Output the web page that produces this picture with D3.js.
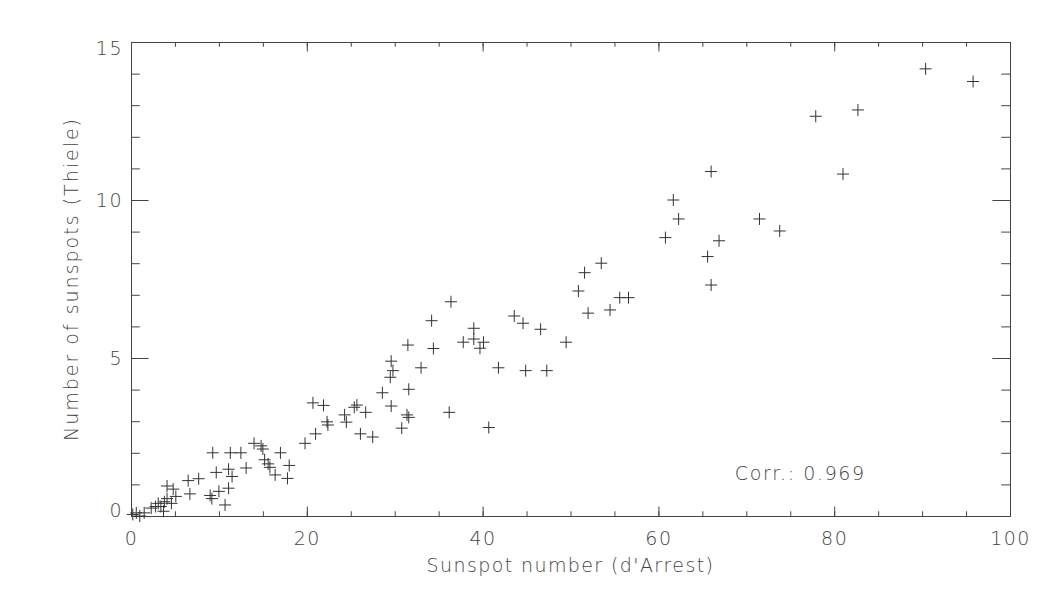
<!DOCTYPE html>
<html>
<head>
<meta charset="utf-8">
<script src="https://d3js.org/d3.v7.min.js"></script>
<style>
  body { margin: 0; background: #fff; }
  text { font-family: "DejaVu Sans", sans-serif; font-weight: 200; fill: #444; }
</style>
</head>
<body>
<svg id="chart"></svg>
<script>

// sunspot numbers, d'Arrest (x) vs Thiele (y)
var dArrest = [0.2, 0.6, 1.0, 1.5, 2.3, 2.8, 3.1, 3.4, 3.7, 3.8, 4.1, 4.6, 5.1, 4.1, 4.8,
  6.5, 7.7, 6.7, 9.0, 9.2, 9.7, 10.0, 10.7, 11.1, 11.1, 11.5, 9.3, 11.3, 12.5, 13.1,
  14.0, 14.8, 15.0, 15.2, 15.6, 15.8, 16.4, 17.0, 17.8, 18.0, 19.8, 20.7, 21.0, 21.9,
  22.3, 22.4, 24.3, 24.5, 25.4, 25.7, 26.1, 26.7, 27.5, 28.6, 29.5, 29.6, 29.8, 29.6,
  30.8, 31.4, 31.6, 31.6, 31.5, 33.0, 34.2, 34.4, 36.2, 36.4, 37.8, 39.0, 39.0, 39.7,
  40.1, 40.7, 41.8, 43.6, 44.6, 44.9, 46.6, 47.3, 49.5, 50.9, 51.6, 52.0, 53.5, 54.5,
  55.6, 56.6, 60.8, 61.7, 62.3, 65.6, 66.0, 66.0, 66.9, 71.5, 73.8, 77.9, 81.0, 82.7,
  90.4, 95.8];
var thiele = [0.05, 0.1, 0.0, 0.1, 0.25, 0.3, 0.4, 0.3, 0.15, 0.45, 0.55, 0.4, 0.62, 0.95, 0.85,
  1.12, 1.18, 0.7, 0.65, 0.55, 1.38, 0.78, 0.35, 0.88, 1.48, 1.25, 2.0, 2.0, 2.0, 1.52,
  2.3, 2.22, 2.12, 1.78, 1.65, 1.54, 1.3, 2.0, 1.19, 1.6, 2.3, 3.58, 2.6, 3.5,
  2.98, 2.88, 3.2, 2.97, 3.44, 3.51, 2.6, 3.28, 2.5, 3.9, 4.39, 4.9, 4.6, 3.48,
  2.78, 3.2, 3.12, 4.01, 5.41, 4.69, 6.18, 5.3, 3.28, 6.78, 5.5, 5.94, 5.6, 5.31,
  5.5, 2.8, 4.69, 6.33, 6.1, 4.6, 5.91, 4.6, 5.5, 7.12, 7.7, 6.42, 8.0, 6.52,
  6.91, 6.91, 8.81, 10.0, 9.4, 8.21, 7.31, 10.9, 8.71, 9.4, 9.02, 12.65, 10.82, 12.85,
  14.15, 13.75];

var xMajor = [0, 20, 40, 60, 80, 100];
var yMajor = [0, 5, 10, 15];
var corrText = "Corr.: 0.969";

var W = 1050, H = 600;
var L = 131, R = 1010, T = 42, B = 516;

var svg = d3.select("#chart").attr("width", W).attr("height", H);

var x = d3.scaleLinear().domain([0, 100]).range([L, R]);
var y = d3.scaleLinear().domain([0, 15]).range([B, T]);

var xMinor = d3.range(0, 101, 5);
var yMinor = d3.range(0, 16, 1);

var xt = 9.5, yt = 17.6;   // tick lengths (major)

function styleAxis(g) {
  g.select(".domain").attr("stroke", "#444");
  g.selectAll(".tick line").attr("stroke", "#444");
  g.selectAll(".tick text").style("font-size", "19px").style("letter-spacing", "1.5px").attr("fill", "#444");
}

// bottom
svg.append("g").attr("transform", "translate(0," + B + ")")
  .call(d3.axisBottom(x).tickValues(xMinor).tickSize(-xt / 2).tickSizeOuter(0).tickFormat(""))
  .call(styleAxis);
svg.append("g").attr("transform", "translate(0," + B + ")")
  .call(d3.axisBottom(x).tickValues(xMajor).tickSize(-xt).tickSizeOuter(0).tickPadding(16).tickFormat(d3.format("d")))
  .call(styleAxis);
// top
svg.append("g").attr("transform", "translate(0," + T + ")")
  .call(d3.axisTop(x).tickValues(xMinor).tickSize(-xt / 2).tickSizeOuter(0).tickFormat(""))
  .call(styleAxis);
svg.append("g").attr("transform", "translate(0," + T + ")")
  .call(d3.axisTop(x).tickValues(xMajor).tickSize(-xt).tickSizeOuter(0).tickFormat(""))
  .call(styleAxis);
// left
svg.append("g").attr("transform", "translate(" + L + ",0)")
  .call(d3.axisLeft(y).tickValues(yMinor).tickSize(-yt / 2).tickSizeOuter(0).tickFormat(""))
  .call(styleAxis);
var yl = svg.append("g").attr("transform", "translate(" + L + ",0)")
  .call(d3.axisLeft(y).tickValues(yMajor).tickSize(-yt).tickSizeOuter(0).tickPadding(8).tickFormat(d3.format("d")))
  .call(styleAxis);
// end labels pulled inside the range like IDL does
yl.selectAll(".tick text").attr("dy", function(d) {
  if (d === 0) return "0.0em";
  if (d === 15) return "0.65em";
  return "0.32em";
});
// right
svg.append("g").attr("transform", "translate(" + R + ",0)")
  .call(d3.axisRight(y).tickValues(yMinor).tickSize(-yt / 2).tickSizeOuter(0).tickFormat(""))
  .call(styleAxis);
svg.append("g").attr("transform", "translate(" + R + ",0)")
  .call(d3.axisRight(y).tickValues(yMajor).tickSize(-yt).tickSizeOuter(0).tickFormat(""))
  .call(styleAxis);

// plus markers
var pts = dArrest.map(function(d, i) { return [d, thiele[i]]; });
var s = 6;
svg.append("g").selectAll("path").data(pts).enter().append("path")
  .attr("d", function(d) {
    var cx = x(d[0]), cy = y(d[1]);
    return "M" + (cx - s) + "," + cy + "H" + (cx + s) + "M" + cx + "," + (cy - s) + "V" + (cy + s);
  })
  .attr("stroke", "#333")
  .attr("stroke-width", 1)
  .attr("fill", "none");

// titles
svg.append("text")
  .attr("x", (L + R) / 2).attr("y", 572)
  .attr("text-anchor", "middle")
  .style("font-size", "19px")
  .style("letter-spacing", "1.4px")
  .text("Sunspot number (d'Arrest)");

svg.append("text")
  .attr("transform", "translate(78," + (T + B) / 2 + ") rotate(-90)")
  .attr("text-anchor", "middle")
  .style("font-size", "19px")
  .style("letter-spacing", "2px")
  .text("Number of sunspots (Thiele)");

svg.append("text")
  .attr("x", x(68.7)).attr("y", 480)
  .style("font-size", "19px")
  .style("letter-spacing", "1.6px")
  .text(corrText);

</script>
</body>
</html>
